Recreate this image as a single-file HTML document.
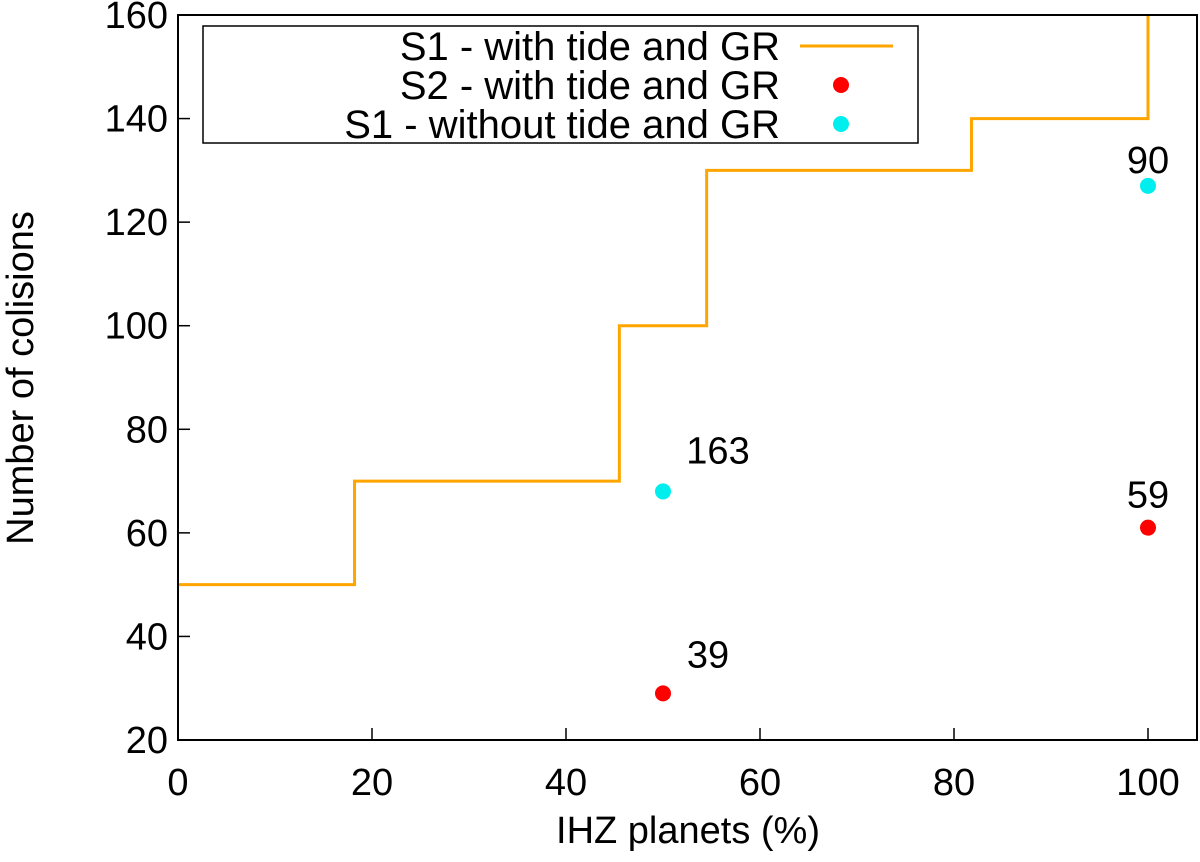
<!DOCTYPE html>
<html><head><meta charset="utf-8"><style>
body{margin:0;background:#fff}
svg text{font-family:"Liberation Sans",sans-serif;font-size:38px;fill:#000}
svg text.lg{font-size:40px}
</style></head><body>
<svg id="c" width="1200" height="857"></svg>
<script>
const xTicks=[0,20,40,60,80,100];
const yTicks=[20,40,60,80,100,120,140,160];
const stepX=[0,18.2,18.2,45.5,45.5,54.5,54.5,81.8,81.8,100,100];
const stepY=[50,50,70,70,100,100,130,130,140,140,160];
const s2X=[50,100];const s2Y=[29,61];const s2Lab=["39","59"];
const s1nX=[50,100];const s1nY=[68,127];const s1nLab=["163","90"];
const L=178,R=1197,T=15,B=740;
const xs=v=>L+(v-0)*(1148-178)/100;
const ys=v=>B-(v-20)*(B-T)/140;
const svg=document.getElementById('c');const NS='http://www.w3.org/2000/svg';
function mk(t,a,p){const e=document.createElementNS(NS,t);for(const k in a)e.setAttribute(k,a[k]);(p||svg).appendChild(e);return e;}
xTicks.forEach(v=>{
 const t=mk('line',{x1:xs(v),x2:xs(v),y1:B,y2:B-12,stroke:'#000','stroke-width':1.5});
 
 
 const l=mk('text',{x:xs(v),y:B+55,'text-anchor':'middle'});l.textContent=v;
 
 
});
yTicks.forEach(v=>{
 const t=mk('line',{x1:L,x2:L+12,y1:ys(v),y2:ys(v),stroke:'#000','stroke-width':1.5});
 
 
 const l=mk('text',{x:L-10,y:ys(v)+13,'text-anchor':'end'});l.textContent=v;
 
 
});
let d='';stepX.forEach((x,i)=>{d+=(i?'L':'M')+xs(x)+' '+ys(stepY[i])});
const p=mk('path',{d:d,fill:'none',stroke:'#ffa500','stroke-width':3});


s1nX.forEach((x,i)=>{
 const c=mk('circle',{cx:xs(x),cy:ys(s1nY[i]),r:8,fill:'#00eeee'});
 
 
 const t=mk('text',{x:xs(x)+(x<100?55:0),y:ys(s1nY[i])-(x<100?28:13),'text-anchor':'middle'});t.textContent=s1nLab[i];
 
 
});
s2X.forEach((x,i)=>{
 const c=mk('circle',{cx:xs(x),cy:ys(s2Y[i]),r:8,fill:'#ff0000'});
 
 
 const t=mk('text',{x:xs(x)+(x<100?45:0),y:ys(s2Y[i])-(x<100?26:20),'text-anchor':'middle'});t.textContent=s2Lab[i];
 
 
});
const f=mk('rect',{x:L,y:T,width:R-L,height:B-T,fill:'none',stroke:'#000','stroke-width':2});


const lg=mk('g',{});


mk('rect',{x:203,y:26,width:715,height:117,fill:'#fff',stroke:'#000','stroke-width':1.5},lg);
const lt=[['S1 - with tide and GR',46],['S2 - with tide and GR',85],['S1 - without tide and GR',124]];
lt.forEach((a,i)=>{const t=mk('text',{x:780,y:a[1]+14,'text-anchor':'end','class':'lg'},lg);t.textContent=a[0];
 
 });
mk('line',{x1:800,x2:893,y1:46,y2:46,stroke:'#ffa500','stroke-width':3},lg);
mk('circle',{cx:841,cy:85,r:8,fill:'#ff0000'},lg);
mk('circle',{cx:841,cy:124,r:8,fill:'#00eeee'},lg);
const xt=mk('text',{x:688,y:843,'text-anchor':'middle'});xt.textContent='IHZ planets (%)';


const yt=mk('text',{x:0,y:0,'text-anchor':'middle',transform:'translate(33,378) rotate(-90)'});yt.textContent='Number of colisions';


</script>
</body></html>
